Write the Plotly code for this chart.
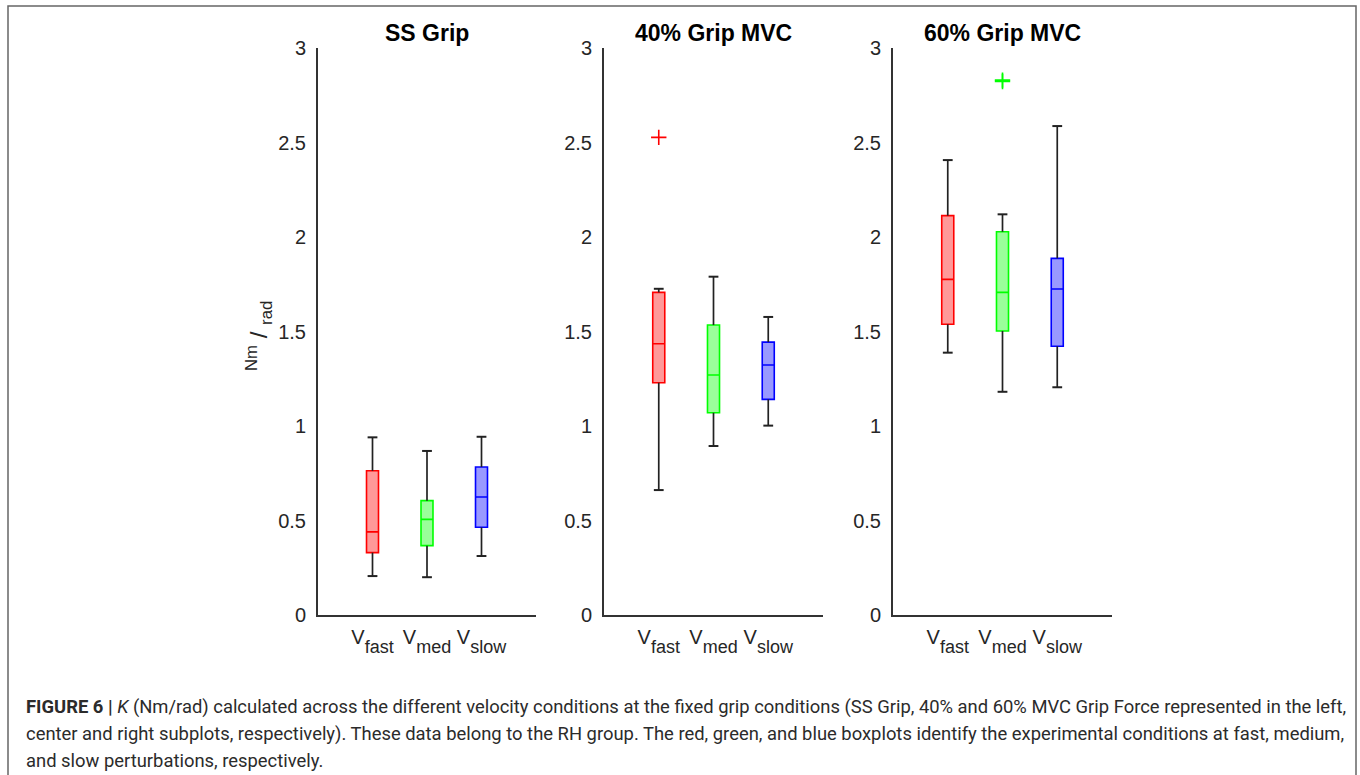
import plotly.graph_objects as go

# Stiffness K (Nm/rad) per grip condition; each list is ordered fast, med, slow
conditions = ["SS Grip", "40% Grip MVC", "60% Grip MVC"]
velocities = ["fast", "med", "slow"]
positions = [1, 2, 3]

ss_lower = [0.206, 0.200, 0.312]
ss_q1 = [0.330, 0.367, 0.464]
ss_median = [0.440, 0.506, 0.624]
ss_q3 = [0.763, 0.605, 0.783]
ss_upper = [0.940, 0.868, 0.943]

mvc40_lower = [0.661, 0.894, 1.002]
mvc40_q1 = [1.229, 1.070, 1.141]
mvc40_median = [1.435, 1.270, 1.323]
mvc40_q3 = [1.707, 1.534, 1.444]
mvc40_upper = [1.726, 1.790, 1.577]

mvc60_lower = [1.388, 1.181, 1.205]
mvc60_q1 = [1.538, 1.503, 1.422]
mvc60_median = [1.776, 1.707, 1.725]
mvc60_q3 = [2.113, 2.028, 1.887]
mvc60_upper = [2.407, 2.120, 2.587]

# outliers: (panel index, velocity position, value)
outlier_panel = [1, 2, 2]
outlier_pos = [1, 2, 2]
outlier_val = [2.527, 2.823, 2.830]

y_ticks = [0, 0.5, 1, 1.5, 2, 2.5, 3]
y_ticktext = ["0", "0.5", "1", "1.5", "2", "2.5", "3"]

line_colors = ["#ff0000", "#00ff00", "#0000ff"]
fill_colors = ["rgba(255,0,0,0.4)", "rgba(0,255,0,0.4)", "rgba(0,0,255,0.4)"]

stats = [
    (ss_lower, ss_q1, ss_median, ss_q3, ss_upper),
    (mvc40_lower, mvc40_q1, mvc40_median, mvc40_q3, mvc40_upper),
    (mvc60_lower, mvc60_q1, mvc60_median, mvc60_q3, mvc60_upper),
]

W, H = 1360, 775
x_domains = [(318, 536), (604, 823), (893, 1112)]
y_top, y_bottom = 48, 615

fig = go.Figure()
axis_color = "#333333"
font_family = "Liberation Sans, Arial, sans-serif"
tick_font = dict(family=font_family, size=20, color="#262626")
# nested subscripts push the index lower; the inner span restores its size
tick_labels = ["V<sub><sub><sub><span style='font-size:18px'>%s</span></sub></sub></sub>" % v
               for v in velocities]

for p in range(3):
    suffix = "" if p == 0 else str(p + 1)
    xa, ya = "x" + suffix, "y" + suffix
    lower, q1, med, q3, upper = stats[p]
    # whiskers in black beneath the boxes
    wx, wy = [], []
    for i, pos in enumerate(positions):
        wx += [pos, pos, None, pos, pos, None]
        wy += [lower[i], q1[i], None, q3[i], upper[i], None]
    fig.add_trace(go.Scatter(x=wx, y=wy, mode="lines", xaxis=xa, yaxis=ya,
                             line=dict(color="#222222", width=1.7),
                             hoverinfo="skip", showlegend=False))
    fig.add_trace(go.Scatter(x=positions + positions, y=lower + upper, mode="markers",
                             xaxis=xa, yaxis=ya,
                             marker=dict(symbol="line-ew", size=7,
                                         line=dict(color="#222222", width=2)),
                             hoverinfo="skip", showlegend=False))
    for i, pos in enumerate(positions):
        fig.add_trace(go.Box(x=[pos], q1=[q1[i]], median=[med[i]], q3=[q3[i]],
                             lowerfence=[q1[i]], upperfence=[q3[i]],
                             width=0.22, whiskerwidth=0,
                             fillcolor=fill_colors[i],
                             line=dict(color=line_colors[i], width=1.6),
                             boxpoints=False, xaxis=xa, yaxis=ya,
                             showlegend=False, name=velocities[i]))
    # outliers
    ox = [outlier_pos[k] for k in range(len(outlier_val)) if outlier_panel[k] == p]
    oy = [outlier_val[k] for k in range(len(outlier_val)) if outlier_panel[k] == p]
    oc = [line_colors[outlier_pos[k] - 1] for k in range(len(outlier_val)) if outlier_panel[k] == p]
    if ox:
        fig.add_trace(go.Scatter(x=ox, y=oy, mode="markers", xaxis=xa, yaxis=ya,
                                 marker=dict(symbol="cross-thin", size=11,
                                             line=dict(color=oc, width=1.6)),
                                 showlegend=False))

    x0, x1 = x_domains[p]
    fig.update_layout(**{
        "xaxis" + suffix: dict(domain=[x0 / W, x1 / W], range=[0, 4], anchor=ya,
                               tickvals=positions, ticktext=tick_labels,
                               showline=True, linecolor=axis_color, linewidth=2,
                               showgrid=False, zeroline=False, ticks="",
                               ticklabelstandoff=3, automargin=False,
                               tickfont=tick_font, fixedrange=True),
        "yaxis" + suffix: dict(domain=[1 - y_bottom / H, 1 - y_top / H], range=[0, 3],
                               anchor=xa, tickvals=y_ticks, ticktext=y_ticktext,
                               showline=True, linecolor=axis_color, linewidth=2,
                               showgrid=False, zeroline=False, ticks="",
                               ticklabelstandoff=6, automargin=False,
                               tickfont=tick_font, fixedrange=True),
    })
    fig.add_annotation(text="<b>%s</b>" % conditions[p], xref="paper", yref="paper",
                       x=(x0 + x1) / 2 / W, y=1 - 33 / H, showarrow=False,
                       xanchor="center", yanchor="middle",
                       font=dict(family=font_family, size=23, color="#000000"))

# y-axis unit label
fig.add_annotation(text="<sup>Nm</sup> / <sub>rad</sub>", xref="paper", yref="paper",
                   x=259 / W, y=1 - 336 / H, showarrow=False, textangle=-90,
                   xanchor="center", yanchor="middle",
                   font=dict(family=font_family, size=24, color="#262626"))

# caption
caption_lines = [
    "<b>FIGURE 6 |</b> <i>K</i> (Nm/rad) calculated across the different velocity conditions at the fixed grip conditions (SS Grip, 40% and 60% MVC Grip Force represented in the left,",
    "center and right subplots, respectively). These data belong to the RH group. The red, green, and blue boxplots identify the experimental conditions at fast, medium,",
    "and slow perturbations, respectively.",
]
caption_y = [707, 734, 760]
for txt, yy in zip(caption_lines, caption_y):
    fig.add_annotation(text=txt, xref="paper", yref="paper", x=24 / W, y=1 - yy / H,
                       showarrow=False, xanchor="left", yanchor="middle", align="left",
                       font=dict(family="Roboto, sans-serif", size=18.4, color="#2b2b2b"))

# frame around the figure
fig.add_shape(type="rect", xref="paper", yref="paper",
              x0=8 / W, x1=1356 / W, y0=-0.05, y1=1 - 6 / H,
              line=dict(color="#666666", width=1.5), fillcolor="rgba(0,0,0,0)")

fig.update_layout(width=W, height=H, autosize=False,
                  margin=dict(l=0, r=0, t=0, b=0, pad=0, autoexpand=False),
                  paper_bgcolor="white", plot_bgcolor="white",
                  showlegend=False, boxmode="overlay")

fig.write_html("out.html", config={"displayModeBar": False})
